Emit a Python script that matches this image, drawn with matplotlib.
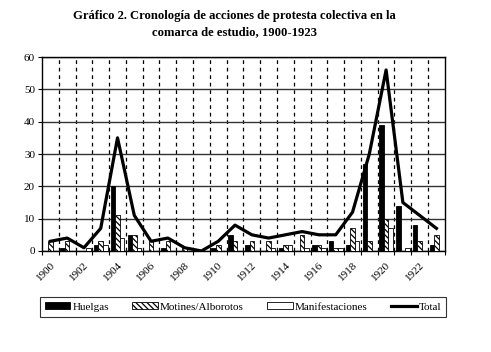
import matplotlib
matplotlib.use("Agg")
import matplotlib.pyplot as plt
import numpy as np

years = list(range(1900, 1924))
huelgas = [0, 1, 0, 2, 20, 5, 0, 1, 0, 0, 1, 5, 2, 0, 1, 0, 2, 3, 2, 27, 39, 14, 8, 2]
motines = [3, 3, 0, 3, 11, 5, 3, 3, 1, 0, 2, 3, 3, 3, 2, 5, 2, 1, 7, 3, 10, 0, 3, 5]
manif   = [0, 0, 1, 2, 4, 1, 0, 0, 0, 0, 0, 0, 0, 1, 2, 1, 1, 1, 3, 0, 7, 1, 0, 0]
total   = [3, 4, 1, 7, 35, 11, 3, 4, 1, 0, 3, 8, 5, 4, 5, 6, 5, 5, 12, 30, 56, 15, 11, 7]
tick_labels = [str(y) for y in years[::2]]

plt.rcParams['font.family'] = ['Liberation Serif', 'DejaVu Serif']
plt.rcParams['hatch.linewidth'] = 0.9

fig = plt.figure(figsize=(4.91, 3.52), dpi=100)
ax = fig.add_axes([0.0855, 0.287, 0.8205, 0.551])

x = np.arange(len(years))
w = 0.27
h1 = ax.bar(x - w, huelgas, w, color='black', edgecolor='black', linewidth=0.6, label='Huelgas', zorder=3)
h2 = ax.bar(x, motines, w, color='white', edgecolor='black', hatch='\\\\\\\\\\\\', linewidth=0.6, label='Motines/Alborotos', zorder=3)
h3 = ax.bar(x + w, manif, w, color='white', edgecolor='black', linewidth=0.6, label='Manifestaciones', zorder=3)
h4, = ax.plot(x, total, color='black', linewidth=2.3, label='Total', zorder=4)

ax.set_xlim(-0.5, len(years) - 0.5)
ax.set_ylim(0, 60)
ax.set_yticks(range(0, 61, 10))
ax.tick_params(axis='y', labelsize=8, length=3, width=0.8, direction='out', pad=2)

ax.set_xticks(x[::2])
ax.set_xticklabels(tick_labels, rotation=45, ha='right', rotation_mode='anchor', fontsize=8)
ax.tick_params(axis='x', which='major', length=0, pad=7)
ax.set_xticks(np.arange(-0.5, len(years), 1), minor=True)
ax.tick_params(axis='x', which='minor', length=3, width=0.8, direction='out')

ax.grid(axis='y', color='#333333', linewidth=1.0, zorder=1)
for b in np.arange(0.5, len(years) - 0.5, 1):
    ax.axvline(b, color='black', linestyle=(0, (3, 3)), linewidth=0.9, zorder=1)

for s in ax.spines.values():
    s.set_linewidth(1.0)
    s.set_color('black')

fig.text(0.478, 0.955, 'Gráfico 2. Cronología de acciones de protesta colectiva en la',
         ha='center', va='center', fontsize=9.1, fontweight='bold')
fig.text(0.478, 0.908, 'comarca de estudio, 1900-1923',
         ha='center', va='center', fontsize=9.1, fontweight='bold')

leg = fig.legend([h1, h2, h3, h4], ['Huelgas', 'Motines/Alborotos', 'Manifestaciones', 'Total'],
                 loc='center', bbox_to_anchor=(0.495, 0.128), ncol=4, fontsize=8,
                 frameon=True, fancybox=False, edgecolor='black', handlelength=2.3,
                 handleheight=0.6, handletextpad=0.2, columnspacing=2.1, borderpad=0.45)
leg.get_frame().set_linewidth(0.8)

fig.savefig('out.png', dpi=100)
